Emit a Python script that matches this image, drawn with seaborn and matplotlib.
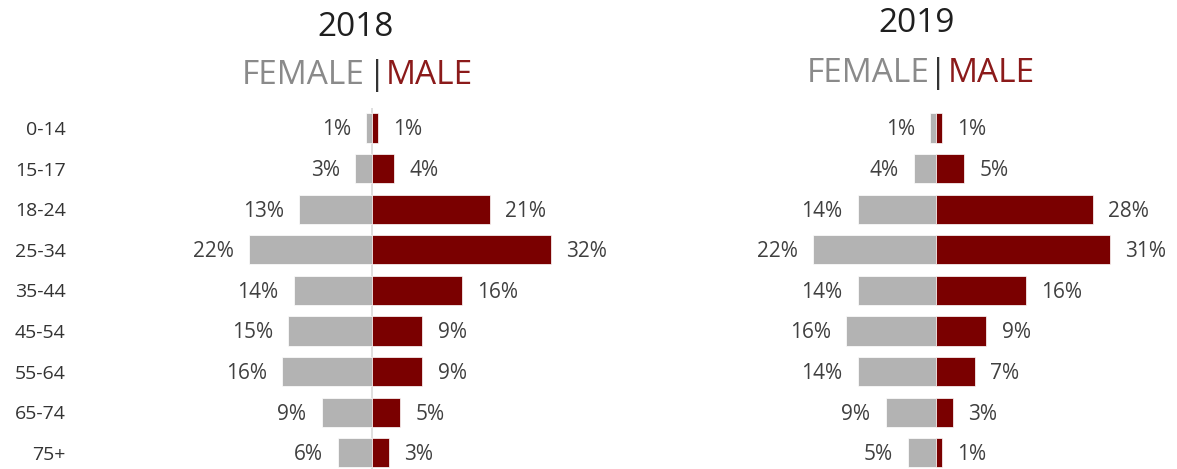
import numpy as np
import matplotlib
matplotlib.use("Agg")
import matplotlib.pyplot as plt
import seaborn as sns

# Age bands and shares (%) by sex
ages = ["0-14", "15-17", "18-24", "25-34", "35-44", "45-54", "55-64", "65-74", "75+"]
female_2018 = [1, 3, 13, 22, 14, 15, 16, 9, 6]
male_2018 = [1, 4, 21, 32, 16, 9, 9, 5, 3]
female_2019 = [1, 4, 14, 22, 14, 16, 14, 9, 5]
male_2019 = [1, 5, 28, 31, 16, 9, 7, 3, 1]
years = ["2018", "2019"]

GRAY = "#b3b3b3"
RED = "#7a0000"
FEMALE_TXT = "#8a8a8a"
MALE_TXT = "#8b1a1a"
LABEL_TXT = "#404040"

sns.set_theme(style="white")
plt.rcParams["font.family"] = ["Open Sans", "DejaVu Sans"]

W, H = 1177, 469
fig = plt.figure(figsize=(W / 100, H / 100), dpi=100)

PX_PER_PCT = 5.6
ROW0, ROW_STEP = 128, 40.6
AX_TOP = 108


def fx(px):
    return px / W


def fy(py):
    return 1 - py / H


def make_axes(left_px, right_px, center_px):
    ax = fig.add_axes([fx(left_px), 0, fx(right_px - left_px), (H - AX_TOP) / H])
    ax.set_xlim(-(center_px - left_px) / PX_PER_PCT, (right_px - center_px) / PX_PER_PCT)
    return ax


panels = [
    dict(year=years[0], female=female_2018, male=male_2018,
         left=70, right=640, center=372, bar_x=377, title_x=356, title_y=27, sub_y=76,
         fem_end=365, male_start=386, show_ticks=True, center_line=True),
    dict(year=years[1], female=female_2019, male=male_2019,
         left=700, right=1177, center=936, bar_x=938, title_x=917, title_y=23, sub_y=73,
         fem_end=930, male_start=948, show_ticks=False, center_line=False),
]

for p in panels:
    ax = make_axes(p["left"], p["right"], p["center"])
    if p["center_line"]:
        ax.axvline(0, color="#dcdcdc", lw=1.3, zorder=0)

    fem = np.array(p["female"])
    mal = np.array(p["male"])
    sns.barplot(x=-fem, y=ages, color=GRAY, orient="h", width=0.72,
                saturation=1, ax=ax, edgecolor="white", linewidth=0.5)
    sns.barplot(x=mal, y=ages, color=RED, orient="h", width=0.72,
                saturation=1, ax=ax, edgecolor="white", linewidth=0.5)

    labels = ax.bar_label(ax.containers[0], labels=[f"{v}%" for v in fem], padding=11,
                          fontsize=15, color=LABEL_TXT)
    labels += ax.bar_label(ax.containers[1], labels=[f"{v}%" for v in mal], padding=11,
                           fontsize=15, color=LABEL_TXT)
    # nudge the percentage labels slightly below the bar centre
    for t in labels:
        dx, dy = t.xyann
        t.xyann = (dx, dy - 1.3)

    ax.set_ylim(len(ages) - 1 + (H - ROW0 - (len(ages) - 1) * ROW_STEP) / ROW_STEP,
                (AX_TOP - ROW0) / ROW_STEP)
    ax.set_xlabel("")
    ax.set_ylabel("")
    ax.set_xticks([])
    if p["show_ticks"]:
        ax.tick_params(axis="y", length=0, pad=3, labelsize=14, labelcolor="#333333")
    else:
        ax.set_yticks([])
    for s in ax.spines.values():
        s.set_visible(False)
    ax.set_facecolor("none")

    # Year heading and sex legend above each pyramid
    fig.text(fx(p["title_x"]), fy(p["title_y"]), p["year"], ha="center", va="center",
             fontsize=24, color="#1f1f1f")
    fig.text(fx(p["fem_end"]), fy(p["sub_y"]), "FEMALE", ha="right", va="center",
             fontsize=24, color=FEMALE_TXT)
    fig.text(fx(p["bar_x"]), fy(p["sub_y"]), "|", ha="center", va="center",
             fontsize=24, color="#333333")
    fig.text(fx(p["male_start"]), fy(p["sub_y"]), "MALE", ha="left", va="center",
             fontsize=24, color=MALE_TXT)

fig.savefig("out.png", dpi=100)
